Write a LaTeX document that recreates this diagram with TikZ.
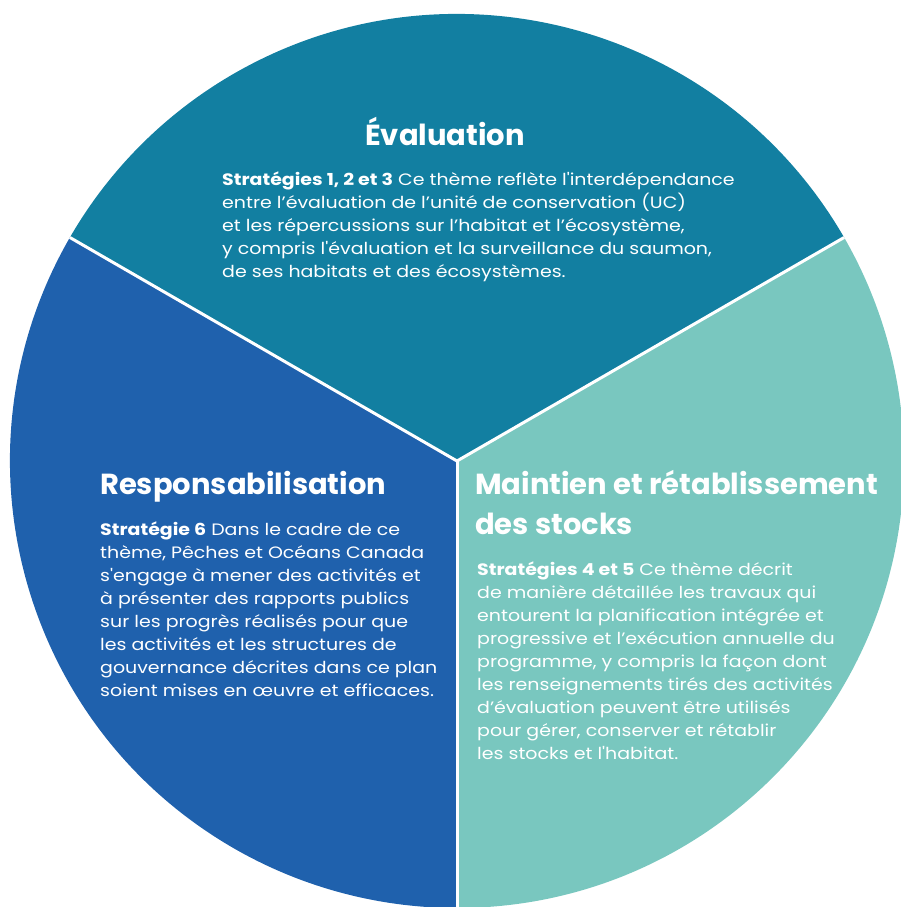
\documentclass[tikz,border=0pt]{standalone}
\usepackage{fontspec}
\usetikzlibrary{calc}
\setmainfont{Poppins}[Ligatures=TeXOff]
\newfontfamily\bodyfont{Poppins}[FakeStretch=1.15,Ligatures=TeXOff]
\definecolor{evalc}{HTML}{127FA1}
\definecolor{respc}{HTML}{1F61AD}
\definecolor{maintc}{HTML}{79C7BF}
\begin{document}
\begin{tikzpicture}[x=1pt,y=1pt,
  title/.style={text=white,inner sep=0pt,font=\bfseries\fontsize{29}{40}\selectfont,align=left},
  body/.style={text=white,inner sep=0pt,font=\bodyfont\fontsize{16.5}{23.1}\selectfont,align=left},
  divider/.style={draw=white,line width=3pt}]
\useasboundingbox (0,0) rectangle (901,907);
\clip (0,0) rectangle (901,907);
\coordinate (C) at (457,446);
\def\R{447}
\fill[evalc] (C) -- ++(30:\R) arc[start angle=30,end angle=150,radius=\R] -- cycle;
\fill[respc] (C) -- ++(150:\R) arc[start angle=150,end angle=270,radius=\R] -- cycle;
\fill[maintc] (C) -- ++(270:\R) arc[start angle=270,end angle=390,radius=\R] -- cycle;
\coordinate (d1) at ($(C)+(30:\R)$);
\coordinate (d2) at ($(C)+(150:\R)$);
\coordinate (d3) at ($(C)+(270:\R)$);
\draw[divider] (C) -- (d1);
\draw[divider] (C) -- (d2);
\draw[divider] (C) -- (d3);
% Evaluation (anchor = baseline of last line)
\node[title,anchor=base] (evt) at (445,761) {Évaluation};
\node[body,anchor=base west] (evb) at (222,629) {\textbf{Stratégies 1, 2 et 3} Ce thème reflète l'interdépendance\\
entre l’évaluation de l’unité de conservation (UC)\\
et les répercussions sur l’habitat et l’écosystème,\\
y compris l'évaluation et la surveillance du saumon,\\
de ses habitats et des écosystèmes.};
% Responsabilisation
\node[title,anchor=base west] (rst) at (100,412) {Responsabilisation};
\node[body,anchor=base west] (rsb) at (100,210) {\textbf{Stratégie 6} Dans le cadre de ce\\
thème, Pêches et Océans Canada\\
s'engage à mener des activités et\\
à présenter des rapports publics\\
sur les progrès réalisés pour que\\
les activités et les structures de\\
gouvernance décrites dans ce plan\\
soient mises en œuvre et efficaces.};
% Maintien
\node[title,anchor=base west] (mtt) at (475,372) {Maintien et rétablissement\\des stocks};
\node[body,anchor=base west] (mtb) at (477,147) {\textbf{Stratégies 4 et 5} Ce thème décrit\\
de manière détaillée les travaux qui\\
entourent la planification intégrée et\\
progressive et l’exécution annuelle du\\
programme, y compris la façon dont\\
les renseignements tirés des activités\\
d’évaluation peuvent être utilisés\\
pour gérer, conserver et rétablir\\
les stocks et l'habitat.};
\end{tikzpicture}
\end{document}
